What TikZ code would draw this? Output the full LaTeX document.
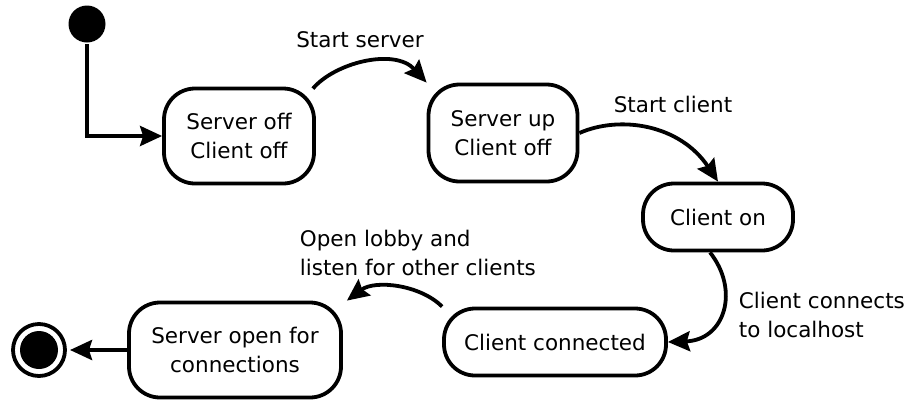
\documentclass[tikz,border=0pt]{standalone}
\usepackage{fontspec}
\setmainfont{DejaVu Sans}
\usetikzlibrary{arrows.meta}

\begin{document}
\begin{tikzpicture}[
  x=1pt, y=-1pt,
  line width=3.8pt,
  font=\fontsize{21.5}{29}\selectfont,
  state/.style={draw, rounded corners=31pt, inner sep=0pt, align=center},
  lbl/.style={inner sep=0pt},
  trans/.style={-{Stealth[length=22pt, width=20pt, inset=3pt]}},
]
\useasboundingbox (0,0) rectangle (912,402);

% initial and final pseudo-states
\node[circle, fill, minimum size=37pt, inner sep=0pt] (init) at (87,24) {};
\node[circle, draw, minimum size=52pt, inner sep=0pt, outer sep=5pt] (fin) at (39,350) {};
\fill (fin.center) circle (19pt);

% states
\node[state, minimum width=150pt, minimum height=95pt] (n1) at (239,136) {Server off\\Client off};
\node[state, minimum width=149pt, minimum height=97pt] (n2) at (503,133) {Server up\\Client off};
\node[state, minimum width=150pt, minimum height=67pt] (n3) at (718,217) {Client on};
\node[state, minimum width=222pt, minimum height=67pt] (n4) at (555,342) {Client connected};
\node[state, minimum width=212pt, minimum height=95pt] (n5) at (235,350) {Server open for\\connections};

% transition labels (base = baseline of the last line)
\node[lbl, anchor=base] (l1) at (360,47) {Start server};
\node[lbl, anchor=base] (l2) at (673,112) {Start client};
\node[lbl, anchor=base west, align=left] (l3) at (737,337) {Client connects\\to localhost};
\node[lbl, anchor=base west, align=left] (l4) at (298,275) {Open lobby and\\listen for other clients};

% transitions
\draw[trans] (init) |- (n1.west);
\draw[trans] ([shift={(-3,2)}]n1.north east) .. controls +(22,-26) and +(-32,-35) .. (n2.north west);
\draw[trans] (n2.east) .. controls +(41,-18) and +(-38,-57) .. (n3.north);
\draw[trans] ([xshift=-8pt]n3.south) .. controls +(30,38) and +(57,-2) .. (n4.east);
\draw[trans] (n4.north west) .. controls +(-22,-22) and +(28,-21) .. ([xshift=4pt]n5.north east);
\draw[trans] (n5.west) -- (fin.east);
\end{tikzpicture}
\end{document}
